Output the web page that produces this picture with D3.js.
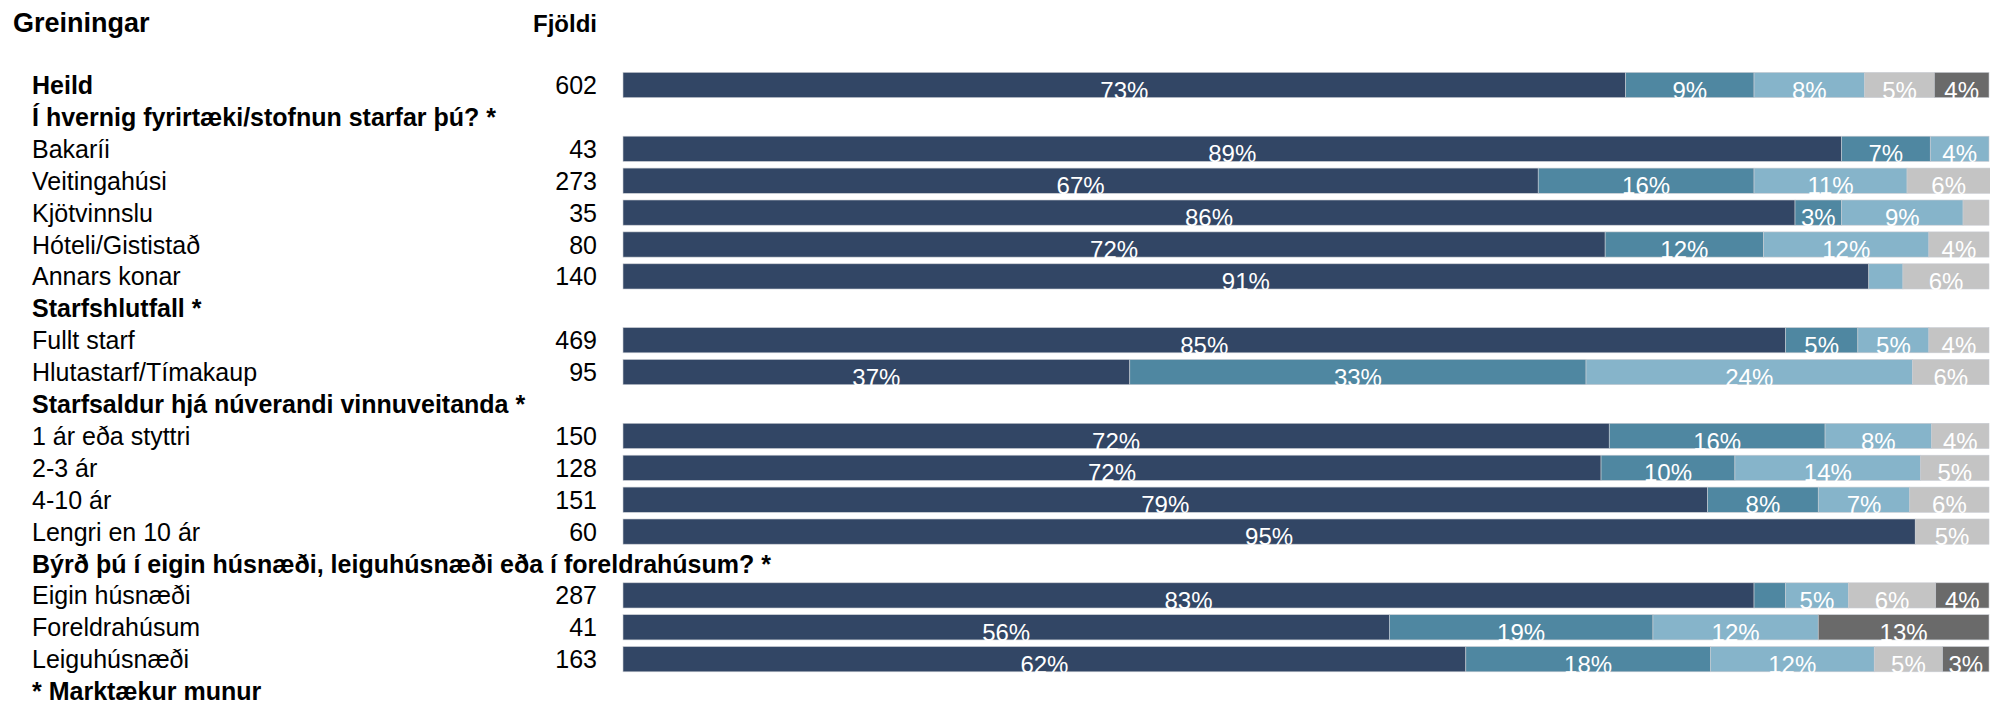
<!DOCTYPE html>
<html lang="en">
<head>
    <meta charset="utf-8">
    <title>Greiningar</title>
    <script type="text/javascript" src="https://d3js.org/d3.v7.min.js"></script>
    <style type="text/css">
        body{
            margin: 0;
            background: #fff;
        }
        svg text{
            font-family: Arial, "Liberation Sans", sans-serif;
        }
        .lbl{ font-size: 25px; fill: #000; }
        .bold{ font-weight: bold; }
        .val{ font-size: 24px; fill: #fff; }
    </style>
</head>
<body>
  <div id="viz"></div>

  <script type="text/javascript">
      var rows = [
        "Heild",
        "Í hvernig fyrirtæki/stofnun starfar þú? *",
        "Bakaríi",
        "Veitingahúsi",
        "Kjötvinnslu",
        "Hóteli/Gististað",
        "Annars konar",
        "Starfshlutfall *",
        "Fullt starf",
        "Hlutastarf/Tímakaup",
        "Starfsaldur hjá núverandi vinnuveitanda *",
        "1 ár eða styttri",
        "2-3 ár",
        "4-10 ár",
        "Lengri en 10 ár",
        "Býrð þú í eigin húsnæði, leiguhúsnæði eða í foreldrahúsum? *",
        "Eigin húsnæði",
        "Foreldrahúsum",
        "Leiguhúsnæði",
        "* Marktækur munur"
      ];
      var boldRows = [0, 1, 7, 10, 15, 19];
      var counts = [602, null, 43, 273, 35, 80, 140, null, 469, 95, null, 150, 128, 151, 60, null, 287, 41, 163, null];

      // five answer groups, percent of each row (null = heading row)
      var s1 = [73.4, null, 89.2, 67.0, 85.8, 71.9, 91.2, null, 85.1, 37.1, null, 72.2, 71.6, 79.4, 94.6, null, 82.8, 56.1, 61.7, null];
      var s2 = [9.4, null, 6.5, 15.8, 3.4, 11.6, 0, null, 5.3, 33.4, null, 15.8, 9.8, 8.1, 0, null, 2.3, 19.3, 17.9, null];
      var s3 = [8.1, null, 4.3, 11.2, 8.9, 12.1, 2.5, null, 5.2, 23.9, null, 7.8, 13.6, 6.7, 0, null, 4.6, 12.1, 12.0, null];
      var s4 = [5.1, null, 0, 6.1, 1.9, 4.4, 6.3, null, 4.4, 5.6, null, 4.2, 5.0, 5.8, 5.4, null, 6.4, 0, 5.0, null];
      var s5 = [4.0, null, 0, 0, 0, 0, 0, null, 0, 0, null, 0, 0, 0, 0, null, 3.9, 12.5, 3.4, null];
      var colors = ["#324665", "#4f87a1", "#86b4ca", "#c4c4c4", "#6a6a6a"];

      var keys = ["s1", "s2", "s3", "s4", "s5"];
      var table = rows.map(function(r, i) {
        return {i: i, s1: s1[i] || 0, s2: s2[i] || 0, s3: s3[i] || 0, s4: s4[i] || 0, s5: s5[i] || 0, bar: s1[i] != null};
      });

      var W = 1990, H = 705;
      var svg = d3.select("#viz").append("svg")
        .attr("width", W)
        .attr("height", H);

      var step = 31.9;
      var x = d3.scaleLinear().domain([0, 100]).range([623, 1989]);
      var y = d3.scaleBand()
        .domain(d3.range(rows.length))
        .range([85 - step / 2, 85 - step / 2 + step * rows.length])
        .paddingInner(0.21)
        .paddingOuter(0.105);

      // headers
      svg.append("text").attr("class", "lbl bold")
        .attr("x", 13).attr("y", 32)
        .style("font-size", "27px")
        .text("Greiningar");
      svg.append("text").attr("class", "lbl bold")
        .attr("x", 597).attr("y", 32)
        .attr("text-anchor", "end")
        .style("font-size", "24px")
        .text("Fjöldi");

      // row labels
      svg.selectAll(".rowlbl")
        .data(rows)
        .enter()
        .append("text")
        .attr("class", function(d, i) { return "lbl rowlbl" + (boldRows.indexOf(i) >= 0 ? " bold" : ""); })
        .attr("x", 32)
        .attr("y", function(d, i) { return y(i) + y.bandwidth() / 2 + 9; })
        .text(function(d) { return d; });

      svg.selectAll(".cnt")
        .data(counts.map(function(c, i) { return {c: c, i: i}; }).filter(function(d) { return d.c != null; }))
        .enter()
        .append("text")
        .attr("class", "lbl cnt")
        .attr("x", 597)
        .attr("text-anchor", "end")
        .attr("y", function(d) { return y(d.i) + y.bandwidth() / 2 + 9; })
        .text(function(d) { return d.c; });

      var stack = d3.stack().keys(keys);
      var series = stack(table.filter(function(d) { return d.bar; }));

      var layer = svg.selectAll(".layer")
        .data(series)
        .enter()
        .append("g")
        .attr("class", "layer")
        .attr("fill", function(d, k) { return colors[k]; });

      layer.selectAll("rect")
        .data(function(d) { return d; })
        .enter()
        .append("rect")
        .attr("x", function(d) { return x(d[0]); })
        .attr("width", function(d) { return x(d[1]) - x(d[0]); })
        .attr("y", function(d) { return y(d.data.i); })
        .attr("height", y.bandwidth())
        .attr("stroke", "#c9ccd2")
        .attr("stroke-width", 0.6);

      layer.selectAll("text")
        .data(function(d) { return d.filter(function(p) { return p[1] - p[0] >= 3; }); })
        .enter()
        .append("text")
        .attr("class", "val")
        .attr("text-anchor", "middle")
        .attr("x", function(d) { return (x(d[0]) + x(d[1])) / 2; })
        .attr("y", function(d) { return y(d.data.i) + y.bandwidth() + 1; })
        .text(function(d) { return Math.round(d[1] - d[0]) + "%"; });
  </script>
</body>
</html>
